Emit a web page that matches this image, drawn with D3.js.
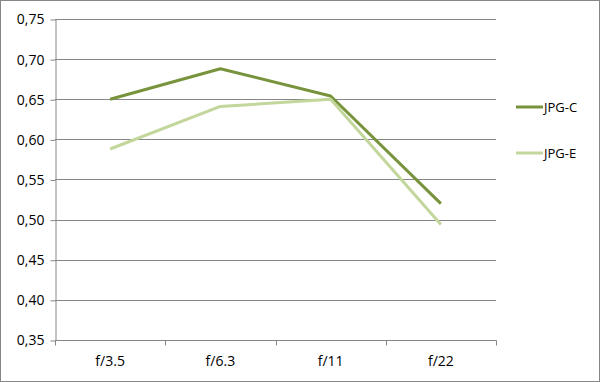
<!DOCTYPE html>
<html>
<head>
<meta charset="utf-8">
<script src="https://cdn.jsdelivr.net/npm/d3@7"></script>
<style>
    body { margin: 0; background: #fff; }
    svg { display: block; font-family: "Open Sans", sans-serif; }
</style>
</head>
<body>
<div id="chart"></div>
<script>
// chart data
const apertures = ['f/3.5', 'f/6.3', 'f/11', 'f/22'];
const seriesNames = ['JPG-C', 'JPG-E'];
const jpgC = [0.650, 0.688, 0.654, 0.520];
const jpgE = [0.588, 0.641, 0.650, 0.494];
const yTicks = [0.35, 0.40, 0.45, 0.50, 0.55, 0.60, 0.65, 0.70, 0.75];
const colors = ['#77933c', '#c3d69b'];

const W = 600, H = 382;
const plot = { left: 55, right: 496, top: 19, bottom: 340 };

const svg = d3.select('#chart').append('svg')
    .attr('width', W)
    .attr('height', H);

// outer border
svg.append('rect')
    .attr('x', 0.5).attr('y', 0.5)
    .attr('width', W - 1).attr('height', H - 1)
    .attr('fill', '#fff')
    .attr('stroke', '#868686');

const x = d3.scaleBand()
    .domain(apertures)
    .range([plot.left, plot.right]);

const y = d3.scaleLinear()
    .domain([0.35, 0.75])
    .range([plot.bottom, plot.top]);

const fmt = v => d3.format('.2f')(v).replace('.', ',');

// gridlines
svg.append('g')
    .selectAll('line')
    .data(yTicks.filter(t => t > 0.35))
    .enter().append('line')
    .attr('x1', plot.left).attr('x2', plot.right)
    .attr('y1', d => Math.round(y(d)) + 0.5)
    .attr('y2', d => Math.round(y(d)) + 0.5)
    .attr('stroke', '#868686');

// y axis
const yAxis = svg.append('g')
    .attr('transform', `translate(${plot.left + 0.5},0.5)`)
    .call(d3.axisLeft(y).tickValues(yTicks).tickFormat(fmt).tickSize(5).tickSizeOuter(0));
yAxis.selectAll('line, path').attr('stroke', '#868686');
yAxis.selectAll('text')
    .attr('x', -11)
    .attr('fill', '#000')
    .style('font-size', '14px')
    .style('font-family', '"Open Sans", sans-serif');

// x axis with ticks at category boundaries
const xAxisG = svg.append('g')
    .attr('transform', `translate(0,${Math.round(plot.bottom) + 0.5})`);
xAxisG.append('line')
    .attr('x1', plot.left).attr('x2', plot.right + 0.5)
    .attr('stroke', '#868686');
xAxisG.selectAll('.tick')
    .data(apertures.concat(['end']))
    .enter().append('line')
    .attr('x1', (d, i) => Math.round(i < apertures.length ? x(d) : x(apertures[apertures.length - 1]) + x.bandwidth()) + 0.5)
    .attr('x2', (d, i) => Math.round(i < apertures.length ? x(d) : x(apertures[apertures.length - 1]) + x.bandwidth()) + 0.5)
    .attr('y1', 0).attr('y2', 5)
    .attr('stroke', '#868686');
xAxisG.selectAll('text')
    .data(apertures)
    .enter().append('text')
    .attr('x', d => x(d) + x.bandwidth() / 2)
    .attr('y', 25)
    .attr('text-anchor', 'middle')
    .style('font-size', '14px')
    .text(d => d);

// lines
const line = d3.line()
    .x((d, i) => x(apertures[i]) + x.bandwidth() / 2)
    .y(d => y(d));

[jpgC, jpgE].forEach((vals, k) => {
    svg.append('path')
        .datum(vals)
        .attr('fill', 'none')
        .attr('stroke', colors[k])
        .attr('stroke-width', 3)
        .attr('stroke-linejoin', 'round')
        .attr('d', line);
});

// legend
const legend = svg.append('g');
seriesNames.forEach((name, k) => {
    const ly = 107 + k * 46;
    legend.append('line')
        .attr('x1', 516).attr('x2', 543)
        .attr('y1', ly).attr('y2', ly)
        .attr('stroke', colors[k])
        .attr('stroke-width', 3);
    legend.append('text')
        .attr('x', 544)
        .attr('y', ly + 5)
        .style('font-size', '13px')
        .text(name);
});
</script>
</body>
</html>
